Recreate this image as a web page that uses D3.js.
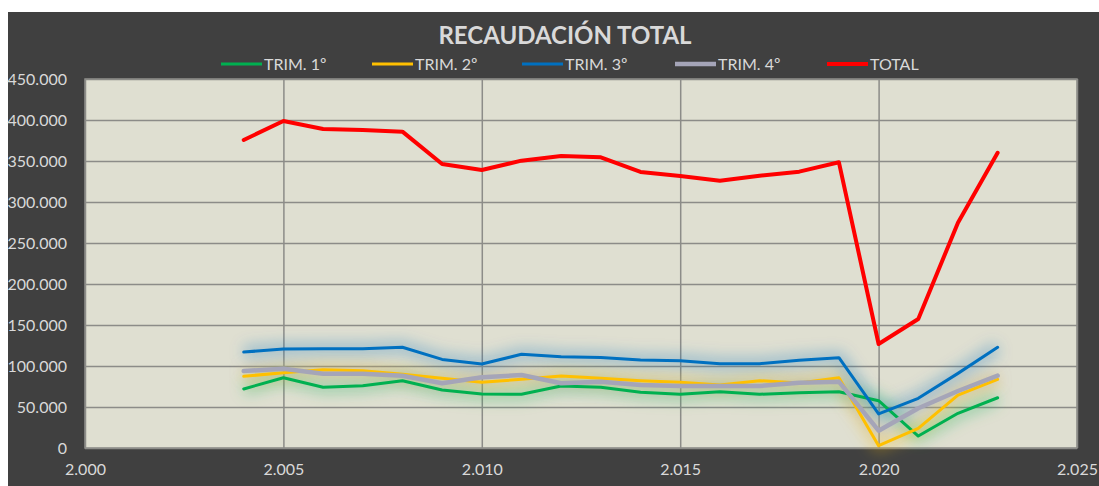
<!DOCTYPE html>
<html>
<head>
<meta charset="utf-8">
<script src="https://cdn.jsdelivr.net/npm/d3@7"></script>
<style>
  body { margin: 0; background: #fff; }
  svg { display: block; }
</style>
</head>
<body>
<div id="chart"></div>
<script>
// data
const years = [2004, 2005, 2006, 2007, 2008, 2009, 2010, 2011, 2012, 2013,
               2014, 2015, 2016, 2017, 2018, 2019, 2020, 2021, 2022, 2023];
const trim1 = [72000, 85700, 74000, 76000, 82100, 70700, 65900, 65500, 75600, 74000,
               67900, 65500, 68700, 65500, 67400, 68700, 57700, 14600, 42300, 61300];
const trim2 = [87400, 91900, 95500, 94300, 89800, 85000, 80100, 83800, 87800, 85000,
               82100, 80100, 76800, 82100, 79300, 85700, 2800, 24000, 64600, 83800];
const trim3 = [117000, 120700, 121000, 121000, 122800, 108000, 102400, 114300, 111300, 110500,
               107300, 106500, 102800, 102800, 106900, 110100, 41500, 60600, 91000, 122800];
const trim4 = [93900, 96700, 90600, 90600, 88200, 78900, 86200, 89000, 78900, 80900,
               76800, 75600, 75600, 75600, 79600, 80900, 21100, 48400, 69500, 88200];
const total = [375600, 398800, 389000, 387800, 385800, 346300, 339000, 350400, 356100, 354500,
               336600, 331700, 325900, 332000, 337000, 348400, 126800, 157300, 274800, 360000];

const seriesNames = ['TRIM. 1º', 'TRIM. 2º', 'TRIM. 3º', 'TRIM. 4º', 'TOTAL'];
const seriesValues = [trim1, trim2, trim3, trim4, total];
const seriesColors = ['#00b050', '#ffc000', '#0070c0', '#a5a5b8', '#ff0000'];
const seriesWidths = [3, 3, 3, 4.5, 4];
const xTicks = [2000, 2005, 2010, 2015, 2020, 2025];
const yTicks = [0, 50000, 100000, 150000, 200000, 250000, 300000, 350000, 400000, 450000];

const W = 1099, H = 486;
const plot = { left: 85, right: 1077, top: 79, bottom: 448 };
const font = 'Lato, "Open Sans", sans-serif';
const labelColor = '#d9d9d9';

const fmt = d3.formatLocale({ decimal: ',', thousands: '.', grouping: [3], currency: ['', ''] }).format(',');

const svg = d3.select('#chart').append('svg')
    .attr('width', W)
    .attr('height', H);

// glow filter for the quarter lines
const defs = svg.append('defs');
defs.append('filter')
    .attr('id', 'glow')
    .attr('x', '-20%').attr('y', '-50%')
    .attr('width', '140%').attr('height', '200%')
    .append('feGaussianBlur')
    .attr('stdDeviation', 7);

svg.append('rect')
    .attr('x', 8).attr('y', 12)
    .attr('width', W - 8).attr('height', H - 12)
    .attr('fill', '#404040');

const x = d3.scaleLinear().domain([2000, 2025]).range([plot.left, plot.right]);
const y = d3.scaleLinear().domain([0, 450000]).range([plot.bottom, plot.top]);

svg.append('rect')
    .attr('x', plot.left).attr('y', plot.top)
    .attr('width', plot.right - plot.left).attr('height', plot.bottom - plot.top)
    .attr('fill', '#dfdfd1');

/* gridlines */
svg.append('g')
    .attr('transform', `translate(0,${plot.bottom})`)
    .call(d3.axisBottom(x).tickValues(xTicks).tickSize(-(plot.bottom - plot.top)).tickFormat(''))
    .call(g => g.select('.domain').remove())
    .call(g => g.selectAll('line').attr('stroke', '#8c8c88').attr('stroke-width', 1.5));

svg.append('g')
    .attr('transform', `translate(${plot.left},0)`)
    .call(d3.axisLeft(y).tickValues(yTicks).tickSize(-(plot.right - plot.left)).tickFormat(''))
    .call(g => g.select('.domain').remove())
    .call(g => g.selectAll('line').attr('stroke', '#8c8c88').attr('stroke-width', 1.5));

svg.append('rect')
    .attr('x', plot.left).attr('y', plot.top)
    .attr('width', plot.right - plot.left).attr('height', plot.bottom - plot.top)
    .attr('fill', 'none')
    .attr('stroke', '#8c8c88')
    .attr('stroke-width', 1.5);

/* tick labels */
svg.append('g')
    .attr('transform', `translate(0,${plot.bottom})`)
    .call(d3.axisBottom(x).tickValues(xTicks).tickSize(0).tickPadding(16).tickFormat(d => fmt(d)))
    .call(g => g.select('.domain').remove())
    .call(g => g.selectAll('text')
        .attr('fill', labelColor)
        .style('font', `16px ${font}`));

svg.append('g')
    .attr('transform', `translate(${plot.left},0)`)
    .call(d3.axisLeft(y).tickValues(yTicks).tickSize(0).tickPadding(18).tickFormat(d => fmt(d)))
    .call(g => g.select('.domain').remove())
    .call(g => g.selectAll('text')
        .attr('fill', labelColor)
        .style('font', `16px ${font}`));

/* lines */
const series = seriesNames.map((name, i) => ({
    name,
    color: seriesColors[i],
    width: seriesWidths[i],
    values: years.map((yr, j) => ({ year: yr, value: seriesValues[i][j] }))
}));

const line = d3.line()
    .x(d => x(d.year))
    .y(d => y(d.value));

const quarters = series.filter(s => s.name !== 'TOTAL');

svg.append('g')
    .attr('class', 'glow')
    .selectAll('path')
    .data(quarters)
    .join('path')
    .attr('d', d => line(d.values))
    .attr('fill', 'none')
    .attr('stroke', d => d.color)
    .attr('stroke-width', 14)
    .attr('stroke-opacity', 0.28)
    .attr('stroke-linejoin', 'round')
    .attr('filter', 'url(#glow)');

svg.append('g')
    .attr('class', 'lines')
    .selectAll('path')
    .data(series)
    .join('path')
    .attr('d', d => line(d.values))
    .attr('fill', 'none')
    .attr('stroke', d => d.color)
    .attr('stroke-width', d => d.width)
    .attr('stroke-linejoin', 'round')
    .attr('stroke-linecap', 'round');

/* title */
svg.append('text')
    .attr('x', 565)
    .attr('y', 44)
    .attr('text-anchor', 'middle')
    .attr('fill', labelColor)
    .style('font', `bold 24px ${font}`)
    .text('RECAUDACIÓN TOTAL');

/* legend */
const legendX = [221, 372, 522, 675, 827];
const legend = svg.append('g')
    .selectAll('g')
    .data(series)
    .join('g')
    .attr('transform', (d, i) => `translate(${legendX[i]},64)`);

legend.append('line')
    .attr('x1', 0).attr('x2', 41)
    .attr('stroke', d => d.color)
    .attr('stroke-width', d => d.width);

legend.append('text')
    .attr('x', 43)
    .attr('dy', '0.35em')
    .attr('fill', labelColor)
    .style('font', `16px ${font}`)
    .text(d => d.name);
</script>
</body>
</html>
